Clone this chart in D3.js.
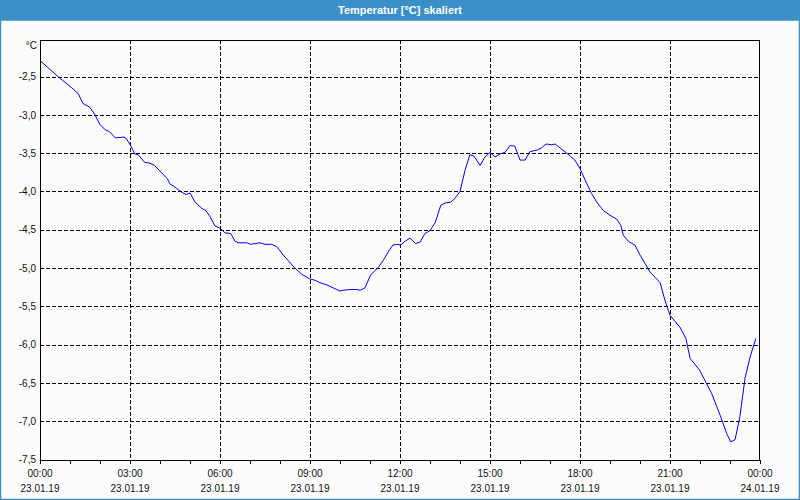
<!DOCTYPE html>
<html><head><meta charset="utf-8">
<script src="https://cdn.jsdelivr.net/npm/d3@7"></script>
<style>
html,body{margin:0;padding:0;background:#fbfcfb;}
svg{display:block;}
text{font-family:"Liberation Sans",Arial,sans-serif;}
</style></head>
<body>
<svg id="c" width="800" height="500"></svg>
<script>
const title = "Temperatur [°C] skaliert";
const unitLabel = "°C";
// time in hours since 23.01.19 00:00
const hours = [0,0.6,1.1,1.27,1.43,1.66,1.82,1.99,2.16,2.32,2.51,2.8,2.88,3.02,3.16,3.27,3.49,3.66,3.82,3.99,4.24,4.33,4.56,4.72,4.87,5.0,5.17,5.39,5.53,5.67,5.83,6.0,6.17,6.36,6.5,6.61,6.89,7.02,7.17,7.33,7.5,7.72,7.89,8.11,8.47,8.72,8.98,9.17,9.33,9.56,9.78,10.0,10.11,10.33,10.56,10.67,10.83,11.02,11.28,11.44,11.64,11.76,11.89,12.02,12.17,12.33,12.52,12.67,12.83,13.0,13.17,13.36,13.5,13.69,13.83,14.0,14.17,14.33,14.47,14.67,14.83,15.0,15.17,15.33,15.5,15.67,15.83,16.0,16.17,16.33,16.56,16.72,16.87,17.06,17.17,17.33,17.56,17.83,18.0,18.17,18.39,18.56,18.78,19.0,19.22,19.36,19.44,19.61,19.83,20.0,20.17,20.33,20.5,20.67,20.83,21.0,21.33,21.53,21.67,21.98,22.22,22.39,22.67,22.89,23.02,23.17,23.33,23.5,23.67,23.86];
const temps = [-2.29,-2.50,-2.66,-2.72,-2.85,-2.90,-2.99,-3.12,-3.19,-3.22,-3.30,-3.29,-3.31,-3.40,-3.51,-3.52,-3.62,-3.63,-3.66,-3.73,-3.83,-3.90,-3.96,-4.01,-4.04,-4.02,-4.14,-4.22,-4.25,-4.33,-4.45,-4.48,-4.54,-4.55,-4.65,-4.67,-4.67,-4.69,-4.68,-4.67,-4.69,-4.69,-4.72,-4.83,-4.99,-5.08,-5.14,-5.16,-5.19,-5.22,-5.26,-5.30,-5.29,-5.28,-5.28,-5.29,-5.26,-5.09,-4.99,-4.90,-4.77,-4.70,-4.69,-4.70,-4.65,-4.61,-4.68,-4.66,-4.55,-4.51,-4.41,-4.18,-4.15,-4.14,-4.09,-4.00,-3.72,-3.52,-3.54,-3.66,-3.55,-3.49,-3.55,-3.51,-3.49,-3.40,-3.41,-3.59,-3.59,-3.48,-3.46,-3.43,-3.38,-3.39,-3.38,-3.43,-3.50,-3.59,-3.70,-3.85,-4.03,-4.14,-4.25,-4.31,-4.36,-4.44,-4.57,-4.65,-4.70,-4.83,-4.94,-5.05,-5.12,-5.19,-5.42,-5.62,-5.77,-5.92,-6.18,-6.33,-6.51,-6.64,-6.92,-7.16,-7.27,-7.24,-6.94,-6.44,-6.16,-5.92];
const yTicks = [-2.5,-3.0,-3.5,-4.0,-4.5,-5.0,-5.5,-6.0,-6.5,-7.0,-7.5];
const xTicks = [0,3,6,9,12,15,18,21,24];
const xTimeLabels = ["00:00","03:00","06:00","09:00","12:00","15:00","18:00","21:00","00:00"];
const xDateLabels = ["23.01.19","23.01.19","23.01.19","23.01.19","23.01.19","23.01.19","23.01.19","23.01.19","24.01.19"];
const minorTicks = d3.range(0,25,1);

const svg = d3.select("#c");
const L=40,R=760,T=40,B=460;
const x = d3.scaleLinear().domain([0,24]).range([L,R]);
const y = d3.scaleLinear().domain([-7.5,-2.022]).range([459.5,T]);

// background + frame
svg.append("rect").attr("x",0).attr("y",0).attr("width",800).attr("height",500).attr("fill","#fbfcfb");
svg.append("rect").attr("x",0).attr("y",0).attr("width",800).attr("height",20).attr("fill","#3b8fc7");
svg.append("rect").attr("x",0.5).attr("y",20).attr("width",799).attr("height",479.5).attr("fill","none").attr("stroke","#3b8fc7").attr("stroke-width",1.5);
svg.append("text").attr("x",400).attr("y",14).attr("text-anchor","middle").attr("fill","#fff")
  .attr("font-size",11).attr("font-weight","bold").text(title);

// horizontal grid
const gy = svg.append("g").attr("transform",`translate(${L},0)`)
  .call(d3.axisLeft(y).tickValues(yTicks).tickSize(-(R-L)).tickPadding(4)
    .tickFormat(d=>d3.format(".1f")(d).replace(".",",").replace("−","-")));
gy.select(".domain").remove();
gy.selectAll(".tick line").attr("stroke","#000").attr("stroke-dasharray","4,2").attr("shape-rendering","crispEdges");
gy.selectAll(".tick text").attr("fill","#111").attr("font-size",10).attr("font-family","Liberation Sans, Arial, sans-serif");

// vertical grid
const gx = svg.append("g").attr("transform",`translate(0,${T})`)
  .call(d3.axisBottom(x).tickValues(xTicks.slice(1,-1)).tickSize(B-T).tickFormat(""));
gx.select(".domain").remove();
gx.selectAll(".tick line").attr("stroke","#000").attr("stroke-dasharray","4,2").attr("shape-rendering","crispEdges");

// frame lines
svg.append("path").attr("d",`M${L+0.5},${T}V${B}M${L},${T+0.5}H${R}M${R-0.5},${T}V${B}M${L},${B+0.5}H${R}`)
  .attr("stroke","#000").attr("fill","none").attr("shape-rendering","crispEdges");

// bottom minor ticks
const gm = svg.append("g").attr("transform",`translate(0,${B})`)
  .call(d3.axisBottom(x).tickValues(minorTicks).tickSize(4).tickFormat(""));
gm.select(".domain").remove();
gm.selectAll(".tick line").attr("stroke","#000").attr("shape-rendering","crispEdges");

// bottom labels
const lab = svg.append("g").attr("font-size",10).attr("fill","#111").attr("text-anchor","middle");
lab.selectAll("text.t").data(xTicks).join("text").attr("class","t")
  .attr("x",d=>x(d)).attr("y",477).text((d,i)=>xTimeLabels[i]);
lab.selectAll("text.d").data(xTicks).join("text").attr("class","d")
  .attr("x",d=>x(d)).attr("y",492).text((d,i)=>xDateLabels[i]);

svg.append("text").attr("x",37).attr("y",49).attr("text-anchor","end").attr("font-size",10).attr("fill","#111").text(unitLabel);

// line
const data = hours.map((h,i)=>({h,v:temps[i]}));
svg.append("path").datum(data)
  .attr("d",d3.line().x(d=>x(d.h)).y(d=>y(d.v)))
  .attr("fill","none").attr("stroke","#0000ff").attr("stroke-width",1);
</script>
</body></html>
